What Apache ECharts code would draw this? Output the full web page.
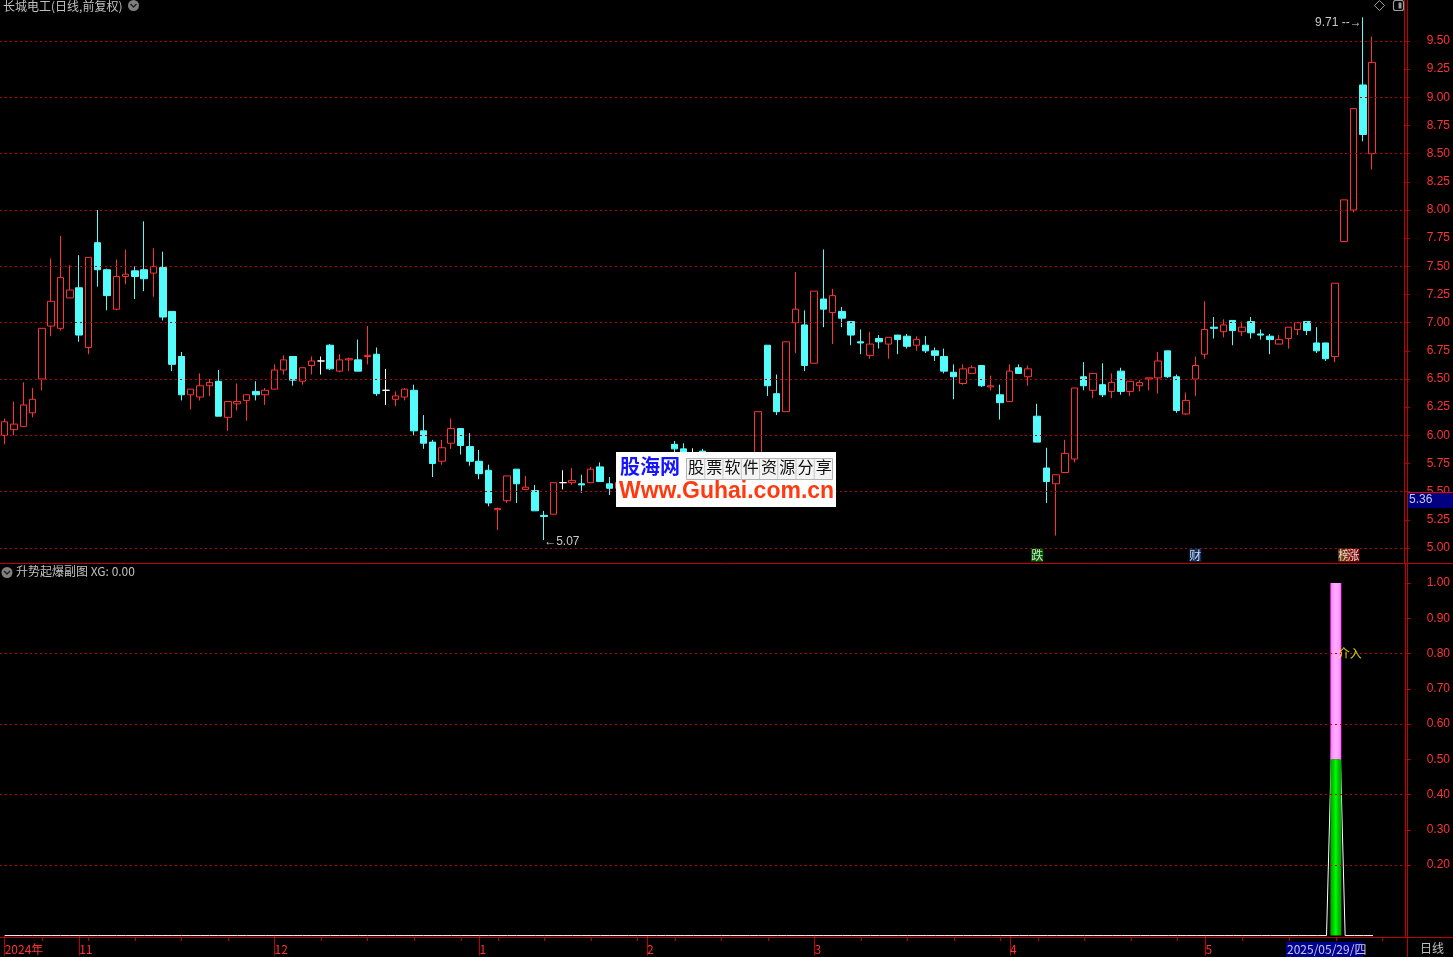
<!DOCTYPE html>
<html><head><meta charset="utf-8">
<script src="https://cdn.jsdelivr.net/npm/echarts@6/dist/echarts.min.js"></script>
<style>html,body{margin:0;padding:0;background:#000;}#c{width:1453px;height:957px;}</style>
</head><body><div id="c"></div>
<script>
// ---------- data ----------
const openP = [6.00,6.05,6.08,6.20,6.50,6.97,6.95,7.22,7.31,6.78, 7.71,7.47,7.12,7.41,7.46,7.47,7.44,7.49,7.10,6.70,
 6.36,6.34,6.44,6.48,6.16,6.28,6.31,6.39,6.36,6.41, 6.58,6.70,6.48,6.62,6.66,6.80,6.57,6.67,6.67,6.70,
 6.72,6.40,6.32,6.34,6.40,6.04,5.94,5.77,5.93,6.06, 5.90,5.77,5.69,5.34,5.42,5.70,5.52,5.51,5.29,5.30,
 5.58,5.58,5.57,5.58,5.72,5.57,5.53,5.58,5.62,5.62, 5.72,5.80,5.92,5.88,5.84,5.86,5.72,5.66,5.72,5.65,
 5.62,5.70,6.80,6.37,6.21,7.00,6.98,6.64,7.21,7.09, 7.10,7.01,6.83,6.71,6.86,6.81,6.89,6.88,6.80,6.80,
 6.75,6.70,6.56,6.46,6.55,6.62,6.43,6.36,6.30,6.60, 6.52,6.17,5.71,5.57,5.67,5.79,6.52,6.40,6.45,6.39,
 6.57,6.39,6.44,6.50,6.51,6.75,6.52,6.19,6.50,6.72, 6.96,6.92,7.02,6.92,7.01,6.90,6.88,6.81,6.86,6.94,
 7.01,6.82,6.82,6.70,7.72,8.00,9.11,8.50];
const closeP = [6.12,6.10,6.27,6.32,6.95,7.19,7.40,7.29,6.89,7.58, 7.47,7.24,7.41,7.43,7.41,7.39,7.50,7.05,6.63,6.36,
 6.41,6.44,6.47,6.17,6.30,6.30,6.36,6.36,6.40,6.58, 6.67,6.49,6.60,6.66,6.66,6.59,6.67,6.68,6.57,6.71,
 6.37,6.40,6.35,6.41,6.04,5.93,5.75,5.89,6.06,5.91, 5.77,5.66,5.40,5.35,5.64,5.57,5.54,5.33,5.28,5.58,
 5.58,5.60,5.56,5.70,5.59,5.53,5.58,5.62,5.60,5.72, 5.80,5.84,5.88,5.84,5.84,5.72,5.68,5.72,5.65,5.62,
 5.65,6.21,6.44,6.21,6.83,7.12,6.62,7.28,7.12,7.24, 7.04,6.89,6.82,6.81,6.83,6.87,6.85,6.79,6.85,6.75,
 6.71,6.57,6.52,6.59,6.60,6.44,6.44,6.29,6.57,6.55, 6.59,5.94,5.59,5.65,5.84,6.42,6.44,6.55,6.36,6.47,
 6.39,6.48,6.47,6.51,6.66,6.52,6.22,6.31,6.62,6.94, 6.95,6.98,6.93,6.96,6.91,6.89,6.85,6.85,6.96,7.00,
 6.93,6.75,6.68,7.35,8.09,8.90,8.67,9.31];
const lowP = [5.92,6.00,6.08,6.16,6.40,6.88,6.93,7.22,6.83,6.72, 7.32,7.11,7.11,7.34,7.21,7.28,7.23,7.02,6.57,6.31,
 6.23,6.31,6.35,6.17,6.04,6.22,6.13,6.31,6.27,6.41, 6.54,6.44,6.45,6.54,6.54,6.58,6.56,6.57,6.57,6.63,
 6.35,6.27,6.26,6.31,6.00,5.88,5.63,5.74,5.88,5.83, 5.73,5.61,5.37,5.16,5.40,5.40,5.52,5.33,5.07,5.30,
 5.52,5.56,5.49,5.58,5.59,5.47,5.50,5.55,5.56,5.60, 5.70,5.76,5.84,5.80,5.78,5.70,5.64,5.62,5.60,5.58,
 5.58,5.68,6.35,6.18,6.21,6.73,6.57,6.64,6.96,6.81, 6.96,6.80,6.72,6.68,6.77,6.68,6.72,6.77,6.75,6.73,
 6.66,6.55,6.32,6.45,6.55,6.43,6.40,6.14,6.30,6.55, 6.44,5.94,5.40,5.11,5.67,5.76,6.40,6.33,6.34,6.33,
 6.36,6.35,6.39,6.40,6.37,6.51,6.20,6.18,6.35,6.68, 6.86,6.87,6.80,6.88,6.86,6.85,6.72,6.81,6.77,6.89,
 6.89,6.73,6.66,6.65,7.72,7.98,8.61,8.36];
const highP = [6.15,6.30,6.47,6.42,6.95,7.57,7.77,7.51,7.60,7.58, 8.00,7.48,7.56,7.65,7.50,7.90,7.66,7.63,7.10,6.74,
 6.41,6.55,6.50,6.58,6.30,6.46,6.36,6.48,6.42,6.63, 6.71,6.70,6.60,6.70,6.70,6.81,6.72,6.69,6.85,6.97,
 6.78,6.59,6.39,6.42,6.45,6.18,5.96,5.96,6.15,6.06, 6.02,5.87,5.74,5.36,5.64,5.70,5.64,5.56,5.33,5.58,
 5.69,5.71,5.65,5.72,5.76,5.63,5.62,5.66,5.68,5.76, 5.83,5.85,5.95,5.93,5.885,5.88,5.78,5.76,5.75,5.70,
 5.68,6.21,6.80,6.54,6.83,7.45,7.11,7.28,7.65,7.30, 7.14,7.01,6.94,6.92,6.89,6.87,6.89,6.90,6.88,6.88,
 6.78,6.77,6.63,6.63,6.62,6.62,6.53,6.45,6.63,6.63, 6.62,6.28,5.89,5.65,5.96,6.42,6.65,6.55,6.64,6.55,
 6.60,6.48,6.49,6.51,6.74,6.75,6.54,6.38,6.70,7.19, 7.05,7.03,7.02,7.01,7.05,6.94,6.90,6.89,6.96,7.00,
 7.01,6.96,6.82,7.35,8.09,8.90,9.71,9.54];
// XG signal (sub chart), one value per trading day (148 days)
const xgSignal = [
 0,0,0,0,0,0,0,0,0,0,  0,0,0,0,0,0,0,0,0,0,  0,0,0,0,0,0,0,0,0,0,  0,0,0,0,0,0,0,0,0,0,
 0,0,0,0,0,0,0,0,0,0,  0,0,0,0,0,0,0,0,0,0,  0,0,0,0,0,0,0,0,0,0,  0,0,0,0,0,0,0,0,0,0,
 0,0,0,0,0,0,0,0,0,0,  0,0,0,0,0,0,0,0,0,0,  0,0,0,0,0,0,0,0,0,0,  0,0,0,0,0,0,0,0,0,0,
 0,0,0,0,0,0,0,0,0,0,  0,0,0,0,0,0,0,0,0,0,
 0,0,0,1,0,0,0,0];
// info-mine markers under the price chart
const eventIdx = [111, 128, 144, 145];
const eventText = ['跌', '财', '榜', '涨'];
// axis ticks
const monthTickIdx = [0, 8, 29, 51, 69, 87, 108, 129];
const monthTickText = ['2024年', '11', '12', '1', '2', '3', '4', '5'];
const priceTicks = [5.00,5.25,5.50,5.75,6.00,6.25,6.50,6.75,7.00,7.25,7.50,7.75,8.00,8.25,8.50,8.75,9.00,9.25,9.50];
const priceGrid = [5.0,5.5,6.0,6.5,7.0,7.5,8.0,8.5,9.0,9.5];
const subTicks = [0.2,0.3,0.4,0.5,0.6,0.7,0.8,0.9,1.0];
const subGrid = [0.2,0.4,0.6,0.8];
const holidays = ['2025-01-01','2025-01-28','2025-01-29','2025-01-30','2025-01-31','2025-02-03','2025-02-04',
  '2025-04-04','2025-05-01','2025-05-02','2025-05-05','2025-06-02'];
const startDate = '2024-10-22';
const slotCount = 151;

// ---------- categories (trading days) ----------
const dates = [];
const weekStart = new Set();
{
  let d = new Date(startDate + 'T00:00:00Z'); let lastWeek = -1;
  while (dates.length < slotCount) {
    const dow = d.getUTCDay(); const s = d.toISOString().slice(0, 10);
    if (dow !== 0 && dow !== 6 && holidays.indexOf(s) < 0) {
      const wk = Math.floor((d.getTime() / 86400000 + 3) / 7);
      if (wk !== lastWeek) { weekStart.add(dates.length); lastWeek = wk; }
      dates.push(s);
    }
    d = new Date(d.getTime() + 86400000);
  }
}
const ohlc = openP.map((o, i) => [o, closeP[i], lowP[i], highP[i]]);
const hiMax = Math.max(...highP), hiIdx = highP.indexOf(hiMax);
const loMin = Math.min(...lowP), loIdx = lowP.indexOf(loMin);

// ---------- style ----------
const RED = '#ff3232', AXIS = '#c00000', GRID = '#c00000', CYAN = '#54fcfc', GRAY = '#c0c0c0';
const NUMFONT = '"Liberation Sans", Arial, sans-serif';
const CJK = '"Noto Sans CJK SC", "Liberation Sans", sans-serif';
const eventBg = {'跌': '#007800', '财': '#0a3a7a', '榜': '#8a4a10', '涨': '#9a1010'};
const mainMin = 4.867, mainMax = 9.864, subMin = -0.004, subMax = 1.054;

const chart = echarts.init(document.getElementById('c'), null, {renderer: 'canvas'});

function gridLines(vals) {
  return {silent: true, symbol: ['none', 'none'], animation: false, label: {show: false},
    lineStyle: {color: GRID, type: [2, 3], width: 1},
    data: vals.map(v => ({yAxis: v}))};
}

const wmChars = '股票软件资源分享'.split('');
const graphics = [
  {type: 'text', left: 3, top: 0, z: 100, style: {text: '长城电工(日线,前复权)', fill: GRAY, font: '12px ' + CJK}},
  {type: 'circle', shape: {cx: 133.5, cy: 5.5, r: 5.5}, z: 100, style: {fill: '#808080'}},
  {type: 'polyline', shape: {points: [[130.5, 4], [133.5, 7], [136.5, 4]]}, z: 101, style: {stroke: '#222', lineWidth: 1.5, fill: null}},
  {type: 'polygon', shape: {points: [[1379.5, 0.5], [1384.5, 5.5], [1379.5, 10.5], [1374.5, 5.5]]}, z: 100, style: {stroke: '#9a9a9a', fill: null}},
  {type: 'rect', shape: {x: 1393.5, y: 0.5, width: 10, height: 10, r: 2}, z: 100, style: {stroke: '#9a9a9a', fill: null, lineWidth: 1.2}},
  {type: 'rect', shape: {x: 1398.5, y: 2.5, width: 3, height: 6}, z: 100, style: {fill: '#9a9a9a'}},
  {type: 'line', shape: {x1: 0, y1: 563.5, x2: 1453, y2: 563.5}, z: 100, style: {stroke: AXIS, lineWidth: 1}},
  {type: 'line', shape: {x1: 0, y1: 937.5, x2: 1453, y2: 937.5}, z: 100, style: {stroke: AXIS, lineWidth: 1}},
  {type: 'line', shape: {x1: 1407.5, y1: 0, x2: 1407.5, y2: 957}, z: 100, style: {stroke: AXIS, lineWidth: 1}},
  {type: 'circle', shape: {cx: 7, cy: 572.5, r: 5.5}, z: 100, style: {fill: '#808080'}},
  {type: 'polyline', shape: {points: [[4, 571], [7, 574], [10, 571]]}, z: 101, style: {stroke: '#222', lineWidth: 1.5, fill: null}},
  {type: 'text', left: 16, top: 565, z: 100, style: {text: '升势起爆副图 XG: 0.00', fill: GRAY, font: '12px ' + CJK}},
  {type: 'rect', shape: {x: 1408, y: 492, width: 45, height: 16}, z: 100, style: {fill: '#000080'}},
  {type: 'line', shape: {x1: 1408, y1: 492.5, x2: 1453, y2: 492.5}, z: 101, style: {stroke: '#e00000'}},
  {type: 'text', x: 1409, y: 494, z: 101, style: {text: '5.36', fill: '#c8c8e8', font: '12px ' + NUMFONT}},
  {type: 'rect', shape: {x: 1286, y: 942, width: 77, height: 15}, z: 100, style: {fill: '#000090'}},
  {type: 'text', x: 1287, y: 943, z: 101, style: {text: '2025/05/29/四', fill: '#c8c8e8', font: '12px ' + CJK}},
  {type: 'text', x: 1420, y: 942, z: 100, style: {text: '日线', fill: GRAY, font: '12px ' + CJK}},
  // watermark
  {type: 'rect', shape: {x: 616, y: 452, width: 220, height: 55}, z: 200, style: {fill: '#ffffff'}},
  {type: 'text', x: 620, y: 456, z: 201, style: {text: '股海网', fill: '#1414ff', font: 'bold 20px ' + CJK}},
  {type: 'rect', shape: {x: 686.5, y: 458.5, width: 146, height: 21}, z: 201, style: {fill: '#f4f4f4', stroke: '#b4b4b4'}},
  ...wmChars.map((ch, k) => ({type: 'text', x: 688 + k * 18.25, y: 459, z: 202,
    style: {text: ch, fill: '#111', font: '16px ' + CJK}})),
  ...wmChars.slice(1).map((ch, k) => ({type: 'line', shape: {x1: 686.5 + (k + 1) * 18.25, y1: 459, x2: 686.5 + (k + 1) * 18.25, y2: 479}, z: 201,
    style: {stroke: '#c8c8c8'}})),
  {type: 'text', x: 619, y: 480, z: 201, style: {text: 'Www.Guhai.com.cn', fill: '#ff3a10', font: 'bold 23px ' + NUMFONT}}
];

const option = {
  backgroundColor: '#000000',
  animation: false,
  graphic: graphics,
  grid: [
    {left: 0, top: 0, width: 1407, height: 563},
    {left: 0, top: 564, width: 1407, height: 373}
  ],
  xAxis: [
    {type: 'category', gridIndex: 0, data: dates, boundaryGap: true, show: false},
    {type: 'category', gridIndex: 1, data: dates, boundaryGap: true, position: 'bottom',
      axisLine: {show: false},
      axisTick: {show: true, alignWithLabel: true, length: 20, lineStyle: {color: AXIS},
        interval: (i) => monthTickIdx.indexOf(i) >= 0},
      axisLabel: {show: true, align: 'left', margin: 6, color: RED, fontSize: 12, fontFamily: CJK,
        interval: (i) => monthTickIdx.indexOf(i) >= 0,
        formatter: (v, i) => { const k = monthTickIdx.indexOf(i); return k >= 0 ? monthTickText[k] : ''; }},
      splitLine: {show: false}},
    {type: 'category', gridIndex: 1, data: dates, boundaryGap: true, position: 'bottom',
      axisLine: {show: false}, axisLabel: {show: false}, splitLine: {show: false},
      axisTick: {show: true, alignWithLabel: true, length: 4, lineStyle: {color: AXIS},
        interval: (i) => weekStart.has(i) && monthTickIdx.indexOf(i) < 0}}
  ],
  yAxis: [
    {type: 'value', gridIndex: 0, position: 'right', min: mainMin, max: mainMax, scale: true,
      axisLine: {show: true, lineStyle: {color: AXIS}},
      axisTick: {show: true, length: 5, lineStyle: {color: AXIS}, customValues: priceTicks},
      axisLabel: {show: true, margin: 22, color: RED, fontSize: 12, fontFamily: NUMFONT,
        customValues: priceTicks, formatter: v => v.toFixed(2)},
      splitLine: {show: false}},
    {type: 'value', gridIndex: 1, position: 'right', min: subMin, max: subMax,
      axisLine: {show: true, lineStyle: {color: AXIS}},
      axisTick: {show: true, length: 5, lineStyle: {color: AXIS}, customValues: subTicks},
      axisLabel: {show: true, margin: 21, color: RED, fontSize: 12, fontFamily: NUMFONT,
        customValues: subTicks, formatter: v => v.toFixed(2)},
      splitLine: {show: false}}
  ],
  series: [
    {type: 'candlestick', xAxisIndex: 0, yAxisIndex: 0, data: ohlc, barWidth: 7,
      itemStyle: {color: '#000000', color0: CYAN, borderColor: RED, borderColor0: CYAN,
        borderColorDoji: '#ffffff', borderWidth: 1},
      markLine: gridLines(priceGrid),
      markPoint: {symbol: 'circle', symbolSize: 0, silent: true, animation: false,
        label: {show: true, color: '#c8c8c8', fontSize: 12, fontFamily: NUMFONT},
        data: [
          {coord: [dates[hiIdx], hiMax], label: {position: 'left', distance: 1, offset: [0, 5], formatter: hiMax.toFixed(2) + ' --\u2192'}},
          {coord: [dates[loIdx], loMin], label: {position: 'right', distance: 0, offset: [0, 2], formatter: '\u2190' + loMin.toFixed(2)}}
        ]}},
    {type: 'scatter', xAxisIndex: 0, yAxisIndex: 0, symbolSize: 0, silent: true, z: 5,
      data: eventIdx.map((ix, k) => ({value: [ix, mainMin + 0.07], name: eventText[k],
        label: {backgroundColor: eventBg[eventText[k]]}})),
      label: {show: true, position: 'inside', formatter: p => p.name, color: '#ffffff', fontSize: 12,
        fontFamily: CJK, padding: [0, 0], lineHeight: 13}},
    {type: 'line', xAxisIndex: 1, yAxisIndex: 1, data: xgSignal, symbol: 'none', z: 1,
      lineStyle: {color: '#ffffff', width: 1}, markLine: gridLines(subGrid)},
    {type: 'bar', xAxisIndex: 1, yAxisIndex: 1, stack: 'xg', barWidth: 11, z: 3,
      data: xgSignal.map(v => v ? v * 0.5 : '-'),
      itemStyle: {color: {type: 'linear', x: 0, y: 0, x2: 1, y2: 0, colorStops: [
        {offset: 0, color: '#00a000'}, {offset: 0.3, color: '#00d400'}, {offset: 0.5, color: '#00ff00'},
        {offset: 0.7, color: '#00c800'}, {offset: 1, color: '#00a000'}]}}},
    {type: 'bar', xAxisIndex: 1, yAxisIndex: 1, stack: 'xg', barWidth: 11, z: 3,
      data: xgSignal.map(v => v ? v * 0.5 : '-'),
      itemStyle: {color: {type: 'linear', x: 0, y: 0, x2: 1, y2: 0, colorStops: [
        {offset: 0, color: '#ff40ff'}, {offset: 0.15, color: '#ff90ff'}, {offset: 0.5, color: '#ffb0ff'},
        {offset: 0.85, color: '#ff90ff'}, {offset: 1, color: '#ff40ff'}]}}},
    {type: 'scatter', xAxisIndex: 1, yAxisIndex: 1, symbolSize: 0, silent: true, z: 6,
      data: xgSignal.map((v, i) => v ? [i, 0.8] : null).filter(Boolean),
      label: {show: true, position: 'right', distance: 2, formatter: '介入', color: '#ffff00', fontSize: 12, fontFamily: CJK}}
  ]
};
chart.setOption(option);
</script>
</body></html>
